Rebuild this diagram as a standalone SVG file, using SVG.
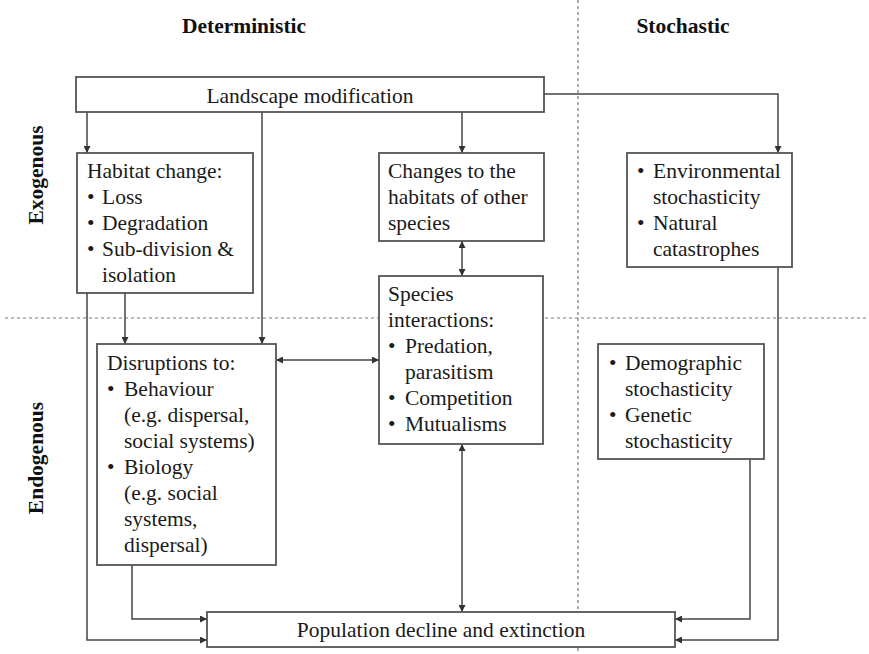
<svg xmlns="http://www.w3.org/2000/svg" width="869" height="654" viewBox="0 0 869 654">
<defs>
<marker id="ah" viewBox="0 0 10 10" refX="10" refY="5" markerWidth="7" markerHeight="7" markerUnits="userSpaceOnUse" orient="auto-start-reverse">
<path d="M0,0 L10,5 L0,10 z" fill="#333"/>
</marker>
<style>
.box{fill:#fff;stroke:#555;stroke-width:1.8}
.c{fill:none;stroke:#444;stroke-width:1.5}
.dot{fill:none;stroke:#777;stroke-width:1.2;stroke-dasharray:3,3}
</style>
</defs>
<rect width="869" height="654" fill="#fff"/>
<g id="guides">
<line class="dot" x1="578" y1="0" x2="578" y2="654"/>
<line class="dot" x1="5" y1="318" x2="869" y2="318"/>
</g>
<g id="headers" font-family="Liberation Serif, Times New Roman, serif" font-size="21.5" font-weight="bold" fill="#111" text-anchor="middle">
<text x="244" y="33">Deterministic</text>
<text x="683" y="33">Stochastic</text>
<text transform="translate(43,175) rotate(-90)">Exogenous</text>
<text transform="translate(43,458) rotate(-90)">Endogenous</text>
</g>
<g id="connectors">
<path class="c" d="M87,112 V153" marker-end="url(#ah)"/>
<path class="c" d="M262,112 V344" marker-end="url(#ah)"/>
<path class="c" d="M462,112 V153" marker-end="url(#ah)"/>
<path class="c" d="M544,94 H778 V153" marker-end="url(#ah)"/>
<path class="c" d="M125,293 V344" marker-end="url(#ah)"/>
<path class="c" d="M87,293 V640 H207" marker-end="url(#ah)"/>
<path class="c" d="M462,241 V276" marker-start="url(#ah)" marker-end="url(#ah)"/>
<path class="c" d="M276,360 H379" marker-start="url(#ah)" marker-end="url(#ah)"/>
<path class="c" d="M462,444 V612" marker-start="url(#ah)" marker-end="url(#ah)"/>
<path class="c" d="M132,565 V619 H207" marker-end="url(#ah)"/>
<path class="c" d="M750,459 V619 H675" marker-end="url(#ah)"/>
<path class="c" d="M778,267 V640 H675" marker-end="url(#ah)"/>
</g>
<g font-family="Liberation Serif, Times New Roman, serif" font-size="21.5" fill="#1a1a1a">
<g id="landscape">
<rect class="box" x="76" y="77" width="468" height="35"/>
<text x="310" y="103" text-anchor="middle">Landscape modification</text>
</g>
<g id="habitat">
<rect class="box" x="77" y="153" width="176" height="140"/>
<text x="87" y="178">Habitat change:</text>
<text x="87" y="204">•</text><text x="102" y="204">Loss</text>
<text x="87" y="230">•</text><text x="102" y="230">Degradation</text>
<text x="87" y="256">•</text><text x="102" y="256">Sub-division &amp;</text>
<text x="102" y="282">isolation</text>
</g>
<g id="changes">
<rect class="box" x="379" y="153" width="165" height="88"/>
<text x="388" y="178">Changes to the</text>
<text x="388" y="204">habitats of other</text>
<text x="388" y="230">species</text>
</g>
<g id="environmental">
<rect class="box" x="627" y="153" width="165" height="114"/>
<text x="637" y="178">•</text><text x="653" y="178">Environmental</text>
<text x="653" y="204">stochasticity</text>
<text x="637" y="230">•</text><text x="653" y="230">Natural</text>
<text x="653" y="256">catastrophes</text>
</g>
<g id="species">
<rect class="box" x="379" y="276" width="164" height="168"/>
<text x="388" y="301">Species</text>
<text x="388" y="327">interactions:</text>
<text x="388" y="353">•</text><text x="405" y="353">Predation,</text>
<text x="405" y="379">parasitism</text>
<text x="388" y="405">•</text><text x="405" y="405">Competition</text>
<text x="388" y="431">•</text><text x="405" y="431">Mutualisms</text>
</g>
<g id="disruptions">
<rect class="box" x="97" y="344" width="179" height="221"/>
<text x="107" y="370">Disruptions to:</text>
<text x="107" y="396">•</text><text x="124" y="396">Behaviour</text>
<text x="124" y="422">(e.g. dispersal,</text>
<text x="124" y="448">social systems)</text>
<text x="107" y="474">•</text><text x="124" y="474">Biology</text>
<text x="124" y="500">(e.g. social</text>
<text x="124" y="526">systems,</text>
<text x="124" y="552">dispersal)</text>
</g>
<g id="demographic">
<rect class="box" x="598" y="344" width="166" height="115"/>
<text x="609" y="370">•</text><text x="625" y="370">Demographic</text>
<text x="625" y="396">stochasticity</text>
<text x="609" y="422">•</text><text x="625" y="422">Genetic</text>
<text x="625" y="448">stochasticity</text>
</g>
<g id="population">
<rect class="box" x="207" y="612" width="468" height="35"/>
<text x="441" y="637" text-anchor="middle">Population decline and extinction</text>
</g>
</g>
</svg>
